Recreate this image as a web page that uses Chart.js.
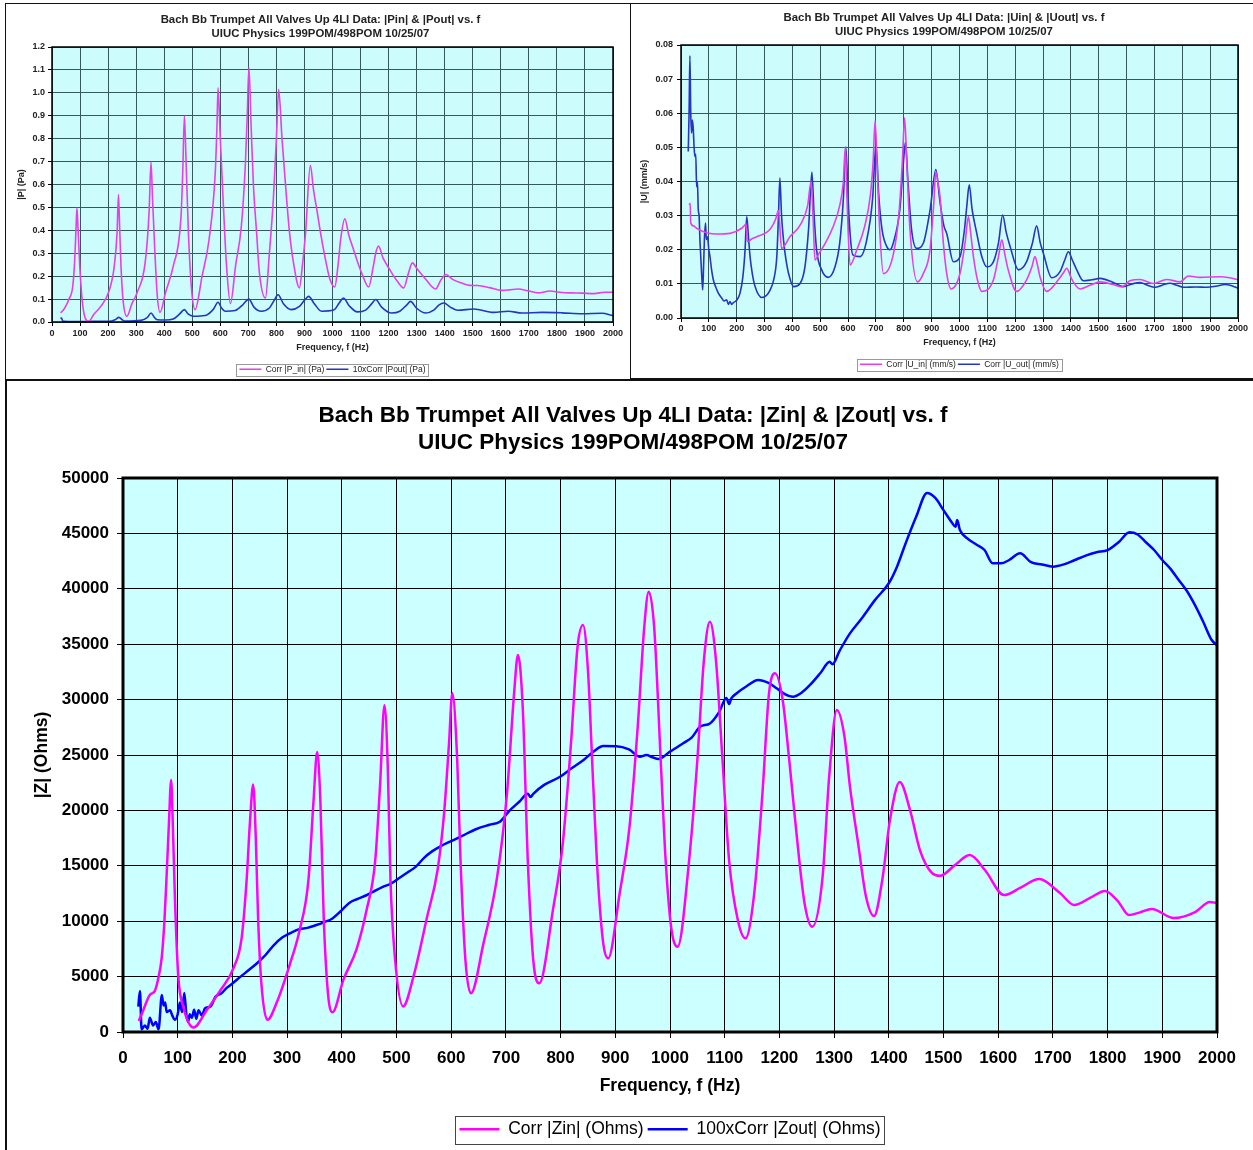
<!DOCTYPE html>
<html>
<head>
<meta charset="utf-8">
<script src="https://cdn.jsdelivr.net/npm/chart.js@4.4.1/dist/chart.umd.min.js"></script>
<style>
  html, body { margin: 0; padding: 0; background: #fff; overflow: hidden; width: 1253px; height: 1150px; }
  .panel { position: absolute; border: 1px solid #111; background: #fff; box-sizing: border-box; }
  canvas { position: absolute; }
</style>
</head>
<body>
<div class="panel" style="left:5px;top:3px;width:626px;height:377px"></div>
<div class="panel" style="left:630px;top:3px;width:640px;height:376px"></div>
<div class="panel" style="left:5px;top:379px;width:1300px;height:800px;border-width:2px"></div>
<canvas id="pChart" width="622" height="380" style="left:7px;top:4px"></canvas>
<canvas id="uChart" width="621" height="375" style="left:632px;top:4px"></canvas>
<canvas id="zChart" width="1246" height="768" style="left:7px;top:382px"></canvas>
<script>
// ---- |Pin| and 10x|Pout| (Pa) ----
const pinFreq = [31, 45, 60, 74, 81, 86, 89, 93, 99, 110, 131, 150, 174, 203, 222, 232, 237, 241, 246, 253, 267, 285, 303, 332, 346, 353, 358, 367, 375, 385, 405, 432, 460, 466, 472, 478, 486, 497, 510, 535, 560, 582, 588, 592, 600, 610, 622, 636, 655, 675, 689, 696, 702, 710, 718, 730, 739, 761, 775, 789, 800, 808, 820, 832, 846, 861, 882, 893, 904, 921, 932, 946, 960, 975, 990, 1008, 1020, 1029, 1044, 1058, 1075, 1090, 1104, 1129, 1145, 1154, 1164, 1180, 1204, 1230, 1254, 1270, 1285, 1300, 1330, 1368, 1385, 1404, 1430, 1461, 1490, 1518, 1560, 1604, 1630, 1661, 1700, 1733, 1776, 1810, 1847, 1890, 1933, 1970, 2000];
const pinVals = [0.039, 0.06, 0.098, 0.156, 0.27, 0.42, 0.498, 0.40, 0.243, 0.068, 0.003, 0.035, 0.068, 0.134, 0.243, 0.389, 0.556, 0.42, 0.243, 0.10, 0.025, 0.08, 0.127, 0.258, 0.476, 0.698, 0.55, 0.30, 0.12, 0.042, 0.13, 0.243, 0.462, 0.65, 0.899, 0.70, 0.40, 0.15, 0.054, 0.20, 0.36, 0.651, 0.85, 1.022, 0.80, 0.534, 0.25, 0.08, 0.25, 0.418, 0.68, 0.90, 1.11, 0.85, 0.60, 0.38, 0.22, 0.105, 0.30, 0.534, 0.80, 1.015, 0.80, 0.607, 0.40, 0.258, 0.149, 0.25, 0.389, 0.684, 0.58, 0.476, 0.37, 0.272, 0.19, 0.153, 0.25, 0.36, 0.45, 0.38, 0.316, 0.26, 0.214, 0.153, 0.24, 0.30, 0.331, 0.28, 0.229, 0.18, 0.149, 0.21, 0.258, 0.235, 0.19, 0.144, 0.18, 0.207, 0.185, 0.17, 0.16, 0.159, 0.15, 0.138, 0.14, 0.144, 0.135, 0.127, 0.135, 0.13, 0.127, 0.126, 0.124, 0.13, 0.13];
const poutFreq = [30, 34, 38, 43, 80, 146, 203, 225, 239, 250, 260, 317, 340, 353, 365, 375, 405, 432, 455, 472, 485, 503, 546, 575, 592, 605, 618, 653, 680, 702, 720, 746, 775, 790, 806, 825, 853, 882, 900, 915, 935, 961, 1004, 1025, 1039, 1060, 1089, 1118, 1140, 1154, 1175, 1211, 1240, 1265, 1278, 1300, 1332, 1361, 1380, 1397, 1420, 1447, 1504, 1575, 1626, 1676, 1747, 1818, 1890, 1961, 2000];
const poutVals = [0.018, 0.017, 0.005, 0.003, 0.002, 0.003, 0.003, 0.01, 0.02, 0.01, 0.004, 0.007, 0.02, 0.039, 0.02, 0.01, 0.009, 0.013, 0.035, 0.054, 0.035, 0.025, 0.028, 0.055, 0.086, 0.06, 0.047, 0.05, 0.075, 0.1, 0.065, 0.047, 0.061, 0.09, 0.119, 0.08, 0.054, 0.068, 0.095, 0.112, 0.08, 0.047, 0.052, 0.085, 0.105, 0.07, 0.044, 0.052, 0.08, 0.098, 0.065, 0.039, 0.047, 0.075, 0.09, 0.06, 0.039, 0.052, 0.075, 0.083, 0.065, 0.051, 0.057, 0.042, 0.047, 0.039, 0.042, 0.04, 0.036, 0.038, 0.028];

// ---- |Uin| and |Uout| (mm/s), top-right panel ----
const uinFreq = [30, 33, 35, 45, 56, 75, 92, 128, 176, 218, 230, 234, 238, 255, 272, 320, 340, 350, 361, 391, 430, 455, 467, 474, 481, 496, 511, 545, 570, 583, 590, 596, 607, 631, 660, 680, 690, 697, 704, 714, 727, 762, 782, 795, 803, 811, 822, 849, 870, 894, 908, 915, 922, 930, 942, 954, 970, 1002, 1020, 1032, 1040, 1050, 1065, 1080, 1122, 1140, 1152, 1162, 1175, 1205, 1241, 1260, 1271, 1280, 1289, 1313, 1355, 1375, 1385, 1400, 1409, 1433, 1469, 1505, 1552, 1582, 1612, 1648, 1696, 1744, 1792, 1822, 1864, 1936, 1970, 2000];
const uinVals = [0.0331, 0.0336, 0.0278, 0.0270, 0.0263, 0.0255, 0.0250, 0.0246, 0.0248, 0.0263, 0.0273, 0.0275, 0.0224, 0.0232, 0.0238, 0.0260, 0.0290, 0.0315, 0.0204, 0.0238, 0.0275, 0.0330, 0.0400, 0.0300, 0.0170, 0.0190, 0.0209, 0.0265, 0.0330, 0.0400, 0.0500, 0.0350, 0.0155, 0.0199, 0.0270, 0.0360, 0.0460, 0.0578, 0.0450, 0.0250, 0.0130, 0.0185, 0.0300, 0.0460, 0.0587, 0.0450, 0.0260, 0.0106, 0.0130, 0.0199, 0.0340, 0.0428, 0.0400, 0.0356, 0.0220, 0.0131, 0.0085, 0.0131, 0.0220, 0.0297, 0.0250, 0.0180, 0.0110, 0.0078, 0.0112, 0.0180, 0.0229, 0.0190, 0.0141, 0.0078, 0.0112, 0.0150, 0.0180, 0.0155, 0.0121, 0.0078, 0.0112, 0.0135, 0.0146, 0.0120, 0.0105, 0.0085, 0.0096, 0.0106, 0.0098, 0.0091, 0.0109, 0.0113, 0.0101, 0.0113, 0.0106, 0.0123, 0.0119, 0.0121, 0.0118, 0.0112];
const uoutFreq = [26, 29, 32, 35, 38, 41, 44, 47, 50, 53, 56, 59, 62, 65, 68, 71, 74, 78, 81, 84, 88, 91, 95, 100, 104, 110, 116, 125, 134, 145, 155, 164, 170, 176, 182, 188, 200, 212, 222, 230, 236, 242, 248, 256, 266, 290, 320, 335, 344, 350, 355, 361, 368, 377, 386, 404, 428, 445, 458, 470, 478, 487, 505, 529, 553, 570, 583, 592, 600, 608, 617, 643, 667, 688, 700, 710, 722, 739, 750, 762, 786, 800, 806, 815, 828, 846, 870, 895, 915, 930, 944, 954, 978, 1002, 1018, 1026, 1035, 1045, 1062, 1080, 1098, 1122, 1140, 1155, 1168, 1182, 1212, 1241, 1262, 1277, 1290, 1301, 1331, 1361, 1378, 1391, 1405, 1421, 1445, 1475, 1505, 1552, 1588, 1620, 1648, 1675, 1702, 1730, 1756, 1780, 1804, 1850, 1888, 1920, 1954, 1975, 2000];
const uoutVals = [0.0488, 0.0600, 0.0768, 0.0600, 0.0542, 0.0580, 0.0555, 0.0500, 0.0473, 0.0480, 0.0385, 0.0400, 0.0317, 0.0300, 0.0229, 0.0180, 0.0131, 0.0082, 0.0150, 0.0229, 0.0278, 0.0230, 0.0238, 0.0200, 0.0180, 0.0140, 0.0112, 0.0090, 0.0073, 0.0060, 0.0050, 0.0053, 0.0040, 0.0048, 0.0040, 0.0045, 0.0052, 0.0073, 0.0120, 0.0199, 0.0297, 0.0240, 0.0180, 0.0130, 0.0092, 0.0060, 0.0082, 0.0120, 0.0180, 0.0300, 0.0410, 0.0300, 0.0229, 0.0170, 0.0131, 0.0092, 0.0102, 0.0150, 0.0260, 0.0428, 0.0300, 0.0199, 0.0141, 0.0119, 0.0150, 0.0220, 0.0350, 0.0501, 0.0350, 0.0238, 0.0185, 0.0180, 0.0229, 0.0350, 0.0510, 0.0360, 0.0258, 0.0209, 0.0200, 0.0219, 0.0320, 0.0470, 0.0515, 0.0400, 0.0258, 0.0204, 0.0219, 0.0320, 0.0435, 0.0340, 0.0270, 0.0248, 0.0165, 0.0180, 0.0260, 0.0326, 0.0390, 0.0320, 0.0248, 0.0180, 0.0150, 0.0165, 0.0220, 0.0302, 0.0250, 0.0209, 0.0141, 0.0165, 0.0220, 0.0270, 0.0220, 0.0190, 0.0118, 0.0136, 0.0170, 0.0194, 0.0170, 0.0141, 0.0109, 0.0112, 0.0116, 0.0104, 0.0092, 0.0100, 0.0104, 0.0096, 0.0090, 0.0097, 0.0102, 0.0096, 0.0090, 0.0091, 0.0090, 0.0093, 0.0098, 0.0095, 0.0087];

// ---- |Zin| and 100x|Zout| (Ohms), bottom panel ----
const zinFreq = [29, 37, 49, 58, 64, 71, 76, 80, 84, 88, 91, 95, 101, 110, 129, 153, 177, 202, 217, 226, 232, 238, 243, 247, 253, 264, 281, 305, 323, 339, 348, 355, 361, 367, 375, 383, 403, 427, 445, 461, 470, 478, 484, 489, 497, 512, 531, 556, 575, 587, 596, 602, 611, 617, 626, 636, 659, 684, 702, 715, 722, 731, 740, 750, 761, 786, 804, 819, 831, 841, 850, 859, 868, 878, 887, 908, 926, 941, 953, 961, 971, 983, 992, 1002, 1014, 1035, 1050, 1062, 1073, 1084, 1096, 1108, 1124, 1138, 1154, 1169, 1181, 1192, 1206, 1218, 1230, 1246, 1260, 1279, 1291, 1305, 1319, 1329, 1344, 1358, 1373, 1388, 1402, 1420, 1439, 1457, 1479, 1494, 1521, 1548, 1576, 1611, 1640, 1675, 1713, 1739, 1768, 1795, 1819, 1839, 1859, 1881, 1921, 1960, 1987, 2000];
const zinVals = [1000, 1970, 3350, 3690, 4730, 6800, 10250, 14390, 18870, 22740, 18870, 11970, 5070, 2310, 410, 1970, 3690, 5760, 8520, 13700, 18870, 22330, 17150, 10250, 4380, 1100, 2660, 6110, 9210, 13700, 20600, 25260, 20600, 10250, 3350, 1790, 4730, 7490, 10940, 15420, 22330, 29500, 24050, 13700, 6800, 2310, 5000, 10400, 14600, 19740, 26050, 30570, 24550, 15520, 6500, 3490, 8000, 14000, 21540, 30570, 34020, 29060, 15520, 6500, 4400, 11010, 17030, 26050, 34770, 36730, 32670, 23040, 14020, 8000, 6650, 12520, 18530, 27550, 36580, 39740, 36580, 24550, 15520, 9500, 7700, 15520, 24550, 33570, 37030, 33570, 24550, 15520, 10110, 8460, 12520, 21540, 30570, 32370, 29960, 24550, 18530, 11620, 9500, 14020, 23040, 29060, 26650, 22140, 17000, 12300, 10470, 13700, 19100, 22560, 20000, 16400, 14350, 14100, 15070, 15970, 14600, 12360, 13000, 13800, 12540, 11460, 12100, 12730, 11800, 10560, 10800, 11100, 10290, 10830, 11730, 11640];
const zoutFreq = [28, 31, 34, 40, 45, 49, 55, 60, 65, 71, 74, 77, 80, 86, 90, 95, 100, 104, 108, 112, 116, 119, 122, 126, 130, 134, 138, 144, 150, 160, 169, 180, 190, 200, 215, 230, 245, 261, 275, 291, 305, 322, 337, 352, 367, 383, 398, 413, 428, 444, 459, 474, 490, 505, 520, 535, 550, 565, 582, 598, 620, 645, 670, 689, 705, 725, 740, 745, 750, 770, 799, 820, 842, 860, 878, 902, 925, 945, 957, 968, 979, 1000, 1024, 1040, 1055, 1073, 1090, 1103, 1108, 1112, 1122, 1140, 1161, 1180, 1195, 1210, 1225, 1240, 1256, 1275, 1292, 1297, 1310, 1329, 1350, 1375, 1400, 1415, 1430, 1450, 1470, 1485, 1500, 1515, 1522, 1525, 1530, 1545, 1560, 1575, 1590, 1605, 1620, 1640, 1660, 1680, 1700, 1720, 1740, 1760, 1780, 1800, 1820, 1840, 1855, 1870, 1885, 1900, 1915, 1930, 1945, 1960, 1975, 1990, 2000];
const zoutVals = [2300, 3700, 240, 590, 300, 1280, 590, 900, 240, 3350, 2400, 2660, 1800, 1970, 1500, 1100, 1600, 2660, 1800, 3520, 1500, 930, 1600, 1280, 2000, 1200, 1970, 1500, 2140, 2300, 3170, 3500, 4000, 4380, 5000, 5590, 6200, 6970, 7800, 8520, 8900, 9280, 9400, 9630, 9900, 10250, 10900, 11630, 12000, 12320, 12700, 13080, 13400, 13900, 14400, 14900, 15700, 16300, 16800, 17180, 17700, 18300, 18700, 18980, 19900, 20800, 21500, 21200, 21500, 22300, 23040, 23800, 24550, 25300, 25810, 25800, 25500, 24850, 25000, 24800, 24640, 25300, 26060, 26600, 27550, 27850, 28900, 30150, 29600, 30100, 30570, 31200, 31770, 31500, 31020, 30500, 30260, 30600, 31320, 32400, 33420, 33200, 34400, 35980, 37300, 39000, 40500, 42000, 44000, 46500, 48650, 48200, 47100, 46000, 45600, 46200, 45300, 44500, 44000, 43500, 42300, 42300, 42600, 43200, 42400, 42200, 42000, 42200, 42600, 43000, 43300, 43500, 44200, 45100, 44900, 44200, 43500, 42600, 41800, 40800, 39800, 38500, 37000, 35400, 34900];

const FONT = '"Liberation Sans", Arial, sans-serif';

function toPoints(fs, vs) {
  return fs.map((f, i) => ({ x: f, y: vs[i] }));
}

function framePlugin(bg, frameWidth) {
  return {
    id: 'plotFrame',
    beforeDraw(chart) {
      const a = chart.chartArea, ctx = chart.ctx;
      ctx.save();
      ctx.fillStyle = bg;
      ctx.fillRect(a.left, a.top, a.right - a.left, a.bottom - a.top);
      ctx.restore();
    },
    afterDatasetsDraw(chart) {
      const a = chart.chartArea, ctx = chart.ctx;
      ctx.save();
      ctx.strokeStyle = '#000';
      ctx.lineWidth = frameWidth;
      ctx.strokeRect(a.left, a.top, a.right - a.left, a.bottom - a.top);
      ctx.restore();
    }
  };
}

function legendBoxPlugin(color, padX, padY) {
  return {
    id: 'legendBox',
    afterDraw(chart) {
      const boxes = chart.legend.legendHitBoxes;
      if (!boxes || !boxes.length) return;
      let l = Infinity, r = -Infinity, t = Infinity, b = -Infinity;
      boxes.forEach(h => {
        l = Math.min(l, h.left); r = Math.max(r, h.left + h.width);
        t = Math.min(t, h.top); b = Math.max(b, h.top + h.height);
      });
      const ctx = chart.ctx;
      ctx.save();
      ctx.strokeStyle = color;
      ctx.lineWidth = 1;
      ctx.strokeRect(Math.round(l - padX) + 0.5, Math.round(t - padY) + 0.5,
        Math.round(r - l + 2 * padX), Math.round(b - t + 2 * padY));
      ctx.restore();
    }
  };
}

function freqChart(id, s) {
  const datasets = s.series.map(d => ({
    label: d.label,
    data: toPoints(d.f, d.v),
    borderColor: d.color,
    backgroundColor: d.color,
    borderWidth: s.lineWidth,
    pointRadius: 0,
    pointStyle: 'line',
    cubicInterpolationMode: 'monotone',
    fill: false
  }));
  const tickFont = { family: FONT, size: s.tickSize, weight: 'bold' };
  const axisFont = { family: FONT, size: s.axisSize, weight: 'bold', lineHeight: 1.2 };
  return new Chart(document.getElementById(id), {
    type: 'line',
    data: { datasets },
    options: {
      responsive: false,
      animation: false,
      devicePixelRatio: 1,
      layout: { padding: s.pad },
      plugins: {
        title: {
          display: true,
          text: s.title,
          color: s.textColor,
          font: { family: FONT, size: s.titleSize, weight: 'bold', lineHeight: s.titleLH },
          padding: s.titlePad
        },
        legend: {
          position: 'bottom',
          fullSize: false,
          labels: {
            usePointStyle: true,
            pointStyle: 'line',
            pointStyleWidth: s.legendLine,
            padding: s.legendPad,
            color: s.textColor,
            font: { family: FONT, size: s.legendSize }
          }
        },
        tooltip: { enabled: false }
      },
      scales: {
        x: {
          type: 'linear',
          min: 0,
          max: 2000,
          ticks: { stepSize: 100, autoSkip: false, maxRotation: 0, padding: s.xTickPad, font: tickFont, color: s.textColor,
            callback: v => String(v) },
          grid: { color: s.gridColor, lineWidth: 1, tickLength: s.tickLen, tickColor: '#000' },
          border: { display: false },
          title: { display: true, text: 'Frequency, f (Hz)', color: s.textColor, font: axisFont, padding: { top: 0, bottom: s.xTitlePad } },
          afterFit: sc => { sc.height = s.xHeight; }
        },
        y: {
          type: 'linear',
          min: 0,
          max: s.yMax,
          ticks: { stepSize: s.yStep, padding: s.yTickPad, font: tickFont, color: s.textColor,
            callback: v => v.toFixed(s.yDec) },
          grid: { color: s.gridColor, lineWidth: 1, tickLength: s.tickLen, tickColor: '#000' },
          border: { display: false },
          title: { display: true, text: s.yTitle, color: s.textColor, font: axisFont, padding: { top: s.yTitlePad, bottom: 0 } },
          afterFit: sc => { sc.width = s.yWidth; }
        }
      }
    },
    plugins: [framePlugin(s.plotBg, s.frameWidth), legendBoxPlugin(s.legendBorder, s.legendBoxPadX, s.legendBoxPadY)]
  });
}

const smallCommon = {
  titleSize: 11.4, titleLH: 14 / 11.4, tickSize: 9, axisSize: 9, legendSize: 8.5,
  legendLine: 22, legendPad: 2, lineWidth: 1.6, tickLen: 4, textColor: '#222',
  gridColor: '#355a5a', plotBg: '#ccfcfc', frameWidth: 1.5, legendBorder: '#999',
  legendBoxPadX: 3, legendBoxPadY: 1.5, xTitlePad: 9.6
};

freqChart('pChart', Object.assign({}, smallCommon, {
  title: ['Bach Bb Trumpet All Valves Up 4LI Data: |Pin| & |Pout| vs. f', 'UIUC Physics 199POM/498POM 10/25/07'],
  titlePad: { top: 9, bottom: 6 },
  pad: { top: 0, left: 21, right: 16, bottom: 0.5 },
  yWidth: 24, xHeight: 41, yTickPad: 3, yTitlePad: -11.4, xTickPad: 2.6,
  yMax: 1.2, yStep: 0.1, yDec: 1, yTitle: '|P| (Pa)',
  series: [
    { label: 'Corr |P_in| (Pa)', f: pinFreq, v: pinVals, color: '#e83ee8' },
    { label: '10xCorr |Pout| (Pa)', f: poutFreq, v: poutVals, color: '#2536c0' }
  ]
}));

freqChart('uChart', Object.assign({}, smallCommon, {
  title: ['Bach Bb Trumpet All Valves Up 4LI Data: |Uin| & |Uout| vs. f', 'UIUC Physics 199POM/498POM 10/25/07'],
  titlePad: { top: 7, bottom: 6 },
  pad: { top: 0, left: 18, right: 15, bottom: 0.5 },
  yWidth: 31, xHeight: 40, yTickPad: 4, yTitlePad: -10.4, xTickPad: 1.6,
  yMax: 0.08, yStep: 0.01, yDec: 2, yTitle: '|U| (mm/s)',
  series: [
    { label: 'Corr |U_in| (mm/s)', f: uinFreq, v: uinVals, color: '#e83ee8' },
    { label: 'Corr |U_out| (mm/s)', f: uoutFreq, v: uoutVals, color: '#2536c0' }
  ]
}));

freqChart('zChart', {
  title: ['Bach Bb Trumpet All Valves Up 4LI Data: |Zin| & |Zout| vs. f', 'UIUC Physics 199POM/498POM 10/25/07'],
  titleSize: 22.5, titleLH: 27 / 22.5, titlePad: { top: 20.5, bottom: 21.5 },
  tickSize: 17, axisSize: 17.5, legendSize: 17.5, legendLine: 40, legendPad: 4,
  lineWidth: 2.5, tickLen: 6, textColor: '#000', gridColor: '#000', plotBg: '#ccffff',
  frameWidth: 3, legendBorder: '#444', legendBoxPadX: 4, legendBoxPadY: 5,
  pad: { top: 0, left: 42, right: 36, bottom: 2 },
  yWidth: 74, xHeight: 84.5, yTickPad: 8, yTitlePad: -17.5, xTickPad: 10.5, xTitlePad: 20,
  yMax: 50000, yStep: 5000, yDec: 0, yTitle: '|Z| (Ohms)',
  series: [
    { label: 'Corr |Zin| (Ohms)', f: zinFreq, v: zinVals, color: '#ff00ff' },
    { label: '100xCorr |Zout| (Ohms)', f: zoutFreq, v: zoutVals, color: '#0000ff' }
  ]
});
</script>
</body>
</html>
